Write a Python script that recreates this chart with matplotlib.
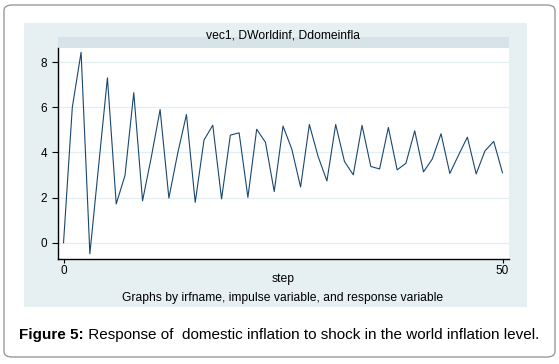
import numpy as np
import matplotlib.pyplot as plt
from matplotlib.patches import FancyBboxPatch, Rectangle

plt.rcParams['font.family'] = ['Liberation Sans', 'DejaVu Sans']

# impulse response, steps 0..50
steps = list(range(51))
irf = [0.00, 6.00, 8.44, -0.49, 3.42, 7.31, 1.72, 2.98, 6.65, 1.86,
       3.80, 5.90, 1.98, 3.96, 5.68, 1.79, 4.55, 5.21, 1.94, 4.77,
       4.87, 2.01, 5.03, 4.45, 2.27, 5.17, 4.15, 2.47, 5.24, 3.82,
       2.74, 5.24, 3.60, 3.01, 5.20, 3.38, 3.27, 5.11, 3.23, 3.52,
       4.96, 3.14, 3.71, 4.83, 3.07, 3.89, 4.68, 3.05, 4.07, 4.49,
       3.10]
yticks = [0, 2, 4, 6, 8]
xticks = [0, 50]

W, H = 559, 364
fig = plt.figure(figsize=(W / 100, H / 100), dpi=100)

def fx(px):
    return px / W

def fy(py):
    return 1 - py / H

# outer rounded frame
frame = FancyBboxPatch((fx(4), fy(357)), fx(551), (357 - 5) / H,
                       boxstyle='round,pad=0,rounding_size=0.015',
                       transform=fig.transFigure, facecolor='white',
                       edgecolor='#9a9a9a', linewidth=1.0, zorder=-3)
fig.patches.append(frame)

# stata graph region
fig.patches.append(Rectangle((fx(24), fy(307)), fx(527 - 24), (307 - 23) / H,
                             transform=fig.transFigure, facecolor='#e6f0f2',
                             edgecolor='none', zorder=-2))
# title band
fig.patches.append(Rectangle((fx(58), fy(48)), fx(509 - 58), (48 - 37) / H,
                             transform=fig.transFigure, facecolor='#d6e3e9',
                             edgecolor='none', zorder=-1))
fig.text(fx(283), fy(36), 'vec1, DWorldinf, Ddomeinfla', ha='center',
         va='center', fontsize=8.7)

ax = fig.add_axes([fx(58), fy(259), fx(509 - 58), (259 - 48) / H])
ax.set_zorder(2)
ax.plot(steps, irf, color='#1a476f', linewidth=0.8)
ax.set_xlim(-0.63, 50.74)
ax.set_ylim(-0.72, 8.63)
ax.set_yticks(yticks)
ax.set_xticks(xticks)
ax.grid(axis='y', color='#e3eef1', linewidth=0.9)
ax.set_axisbelow(True)
for s in ['top', 'right']:
    ax.spines[s].set_visible(False)
ax.spines['left'].set_linewidth(1.0)
ax.spines['bottom'].set_linewidth(1.0)
ax.tick_params(axis='both', labelsize=8.5, width=0.8)
ax.tick_params(axis='x', length=3, pad=1.5)
ax.tick_params(axis='y', length=4, pad=4)

fig.text(fx(283), fy(279), 'step', ha='center', va='center', fontsize=8.7)
fig.text(fx(283), fy(298),
         'Graphs by irfname, impulse variable, and response variable',
         ha='center', va='center', fontsize=8.7)

# caption
t1 = fig.text(fx(19), fy(335), 'Figure 5:', ha='left', va='center',
              fontsize=11, fontweight='bold')
fig.canvas.draw()
bb = t1.get_window_extent()
fig.text(bb.x1 / W, fy(335),
         ' Response of  domestic inflation to shock in the world inflation level.',
         ha='left', va='center', fontsize=11)

fig.savefig('out.png', dpi=100)
